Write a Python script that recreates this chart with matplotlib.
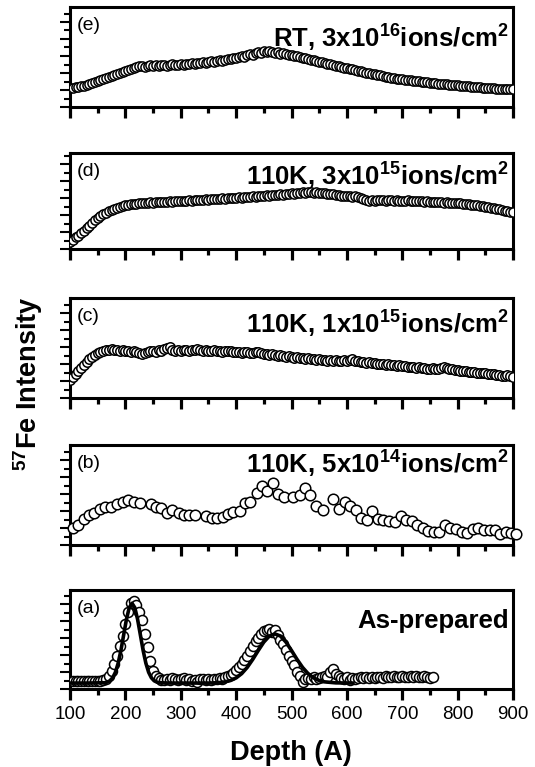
import numpy as np
import matplotlib
matplotlib.use("Agg")
import matplotlib.pyplot as plt
from matplotlib.ticker import MultipleLocator, NullFormatter, FixedLocator

plt.rcParams['font.family'] = ['Liberation Sans', 'DejaVu Sans']
plt.rcParams['mathtext.fontset'] = 'custom'
plt.rcParams['mathtext.rm'] = 'Liberation Sans:bold'
plt.rcParams['mathtext.bf'] = 'Liberation Sans:bold'

# ---------------- data ----------------
depth_dense = np.arange(100, 905, 5)

int_e = [0.19,0.19,0.20,0.20,0.21,0.21,0.22,0.23,0.24,0.25,0.26,0.27,0.28,0.29,0.30,0.31,0.32,0.33,0.34,0.35,
         0.36,0.37,0.38,0.39,0.40,0.41,0.41,0.40,0.41,0.42,0.41,0.42,0.41,0.42,0.42,0.41,0.42,0.43,0.42,0.42,
         0.43,0.42,0.43,0.43,0.44,0.43,0.44,0.44,0.45,0.44,0.45,0.46,0.45,0.46,0.47,0.46,0.47,0.48,0.48,0.49,
         0.49,0.50,0.51,0.50,0.52,0.53,0.52,0.54,0.55,0.54,0.56,0.55,0.56,0.55,0.54,0.55,0.53,0.54,0.53,0.52,
         0.52,0.51,0.51,0.50,0.49,0.49,0.48,0.47,0.47,0.46,0.45,0.45,0.44,0.43,0.43,0.42,0.41,0.41,0.40,0.39,
         0.39,0.38,0.38,0.37,0.36,0.36,0.35,0.34,0.34,0.33,0.33,0.32,0.32,0.31,0.30,0.30,0.29,0.29,0.28,0.28,
         0.28,0.27,0.27,0.27,0.26,0.26,0.26,0.25,0.25,0.25,0.24,0.24,0.24,0.23,0.23,0.23,0.23,0.22,0.22,0.22,
         0.22,0.21,0.21,0.21,0.21,0.20,0.20,0.20,0.20,0.19,0.19,0.19,0.19,0.19,0.18,0.18,0.18,0.18,0.18,0.18,
         0.18]

int_d = [0.07,0.09,0.12,0.14,0.17,0.19,0.22,0.24,0.27,0.30,0.32,0.34,0.36,0.38,0.40,0.41,0.42,0.43,0.44,0.45,
         0.46,0.46,0.47,0.47,0.47,0.48,0.48,0.48,0.48,0.49,0.48,0.49,0.49,0.49,0.49,0.49,0.50,0.49,0.50,0.50,
         0.50,0.50,0.50,0.51,0.50,0.51,0.51,0.51,0.51,0.52,0.51,0.52,0.52,0.52,0.52,0.53,0.52,0.53,0.53,0.53,
         0.53,0.54,0.53,0.54,0.54,0.54,0.55,0.54,0.55,0.55,0.55,0.56,0.55,0.56,0.56,0.56,0.57,0.56,0.57,0.57,
         0.58,0.57,0.58,0.58,0.59,0.58,0.59,0.59,0.58,0.59,0.58,0.58,0.58,0.57,0.57,0.57,0.56,0.56,0.55,0.55,
         0.55,0.55,0.54,0.55,0.54,0.53,0.52,0.51,0.50,0.51,0.50,0.51,0.51,0.51,0.50,0.51,0.51,0.50,0.51,0.50,
         0.50,0.50,0.51,0.50,0.50,0.50,0.50,0.50,0.49,0.50,0.49,0.49,0.49,0.49,0.49,0.48,0.49,0.48,0.48,0.48,
         0.48,0.48,0.47,0.47,0.47,0.46,0.46,0.46,0.45,0.45,0.44,0.44,0.43,0.43,0.42,0.42,0.41,0.40,0.40,0.39,
         0.39]

int_c = [0.18,0.21,0.24,0.27,0.30,0.33,0.36,0.39,0.41,0.43,0.45,0.46,0.47,0.48,0.48,0.49,0.48,0.48,0.47,0.48,
         0.47,0.47,0.46,0.47,0.46,0.45,0.44,0.45,0.46,0.47,0.47,0.46,0.48,0.47,0.49,0.50,0.51,0.48,0.47,0.48,
         0.47,0.48,0.48,0.47,0.48,0.48,0.49,0.48,0.47,0.48,0.47,0.47,0.48,0.47,0.47,0.46,0.47,0.47,0.47,0.46,
         0.46,0.46,0.45,0.46,0.46,0.45,0.45,0.46,0.46,0.45,0.44,0.44,0.43,0.44,0.43,0.42,0.43,0.42,0.41,0.42,
         0.41,0.40,0.41,0.40,0.40,0.39,0.40,0.39,0.39,0.38,0.39,0.38,0.38,0.37,0.38,0.37,0.38,0.37,0.37,0.38,
         0.37,0.38,0.39,0.37,0.37,0.36,0.36,0.35,0.36,0.35,0.35,0.34,0.34,0.34,0.33,0.34,0.33,0.33,0.32,0.33,
         0.32,0.32,0.31,0.31,0.31,0.30,0.31,0.30,0.30,0.29,0.29,0.30,0.29,0.29,0.30,0.31,0.30,0.29,0.29,0.28,
         0.28,0.27,0.27,0.27,0.26,0.26,0.26,0.25,0.25,0.25,0.25,0.24,0.24,0.24,0.23,0.23,0.22,0.22,0.23,0.22,
         0.21]

depth_b = [106,115,125,135,144,154,164,174,184,195,205,216,226,246,256,265,276,285,296,305,
           315,326,345,356,365,376,386,395,407,416,425,437,446,456,466,476,486,503,515,525,
           534,545,557,575,586,596,605,616,626,637,646,657,666,676,687,697,706,717,727,738,
           747,757,767,777,787,797,807,817,828,837,847,858,867,877,887,897,906]
int_b = [0.167,0.20,0.257,0.30,0.323,0.357,0.377,0.377,0.41,0.433,0.45,0.433,0.417,0.41,0.383,0.373,0.317,0.35,0.317,0.30,
         0.30,0.30,0.29,0.267,0.267,0.283,0.31,0.333,0.34,0.417,0.433,0.517,0.59,0.54,0.623,0.507,0.483,0.483,0.50,0.573,
         0.50,0.39,0.35,0.457,0.357,0.433,0.39,0.35,0.267,0.25,0.343,0.26,0.25,0.243,0.227,0.29,0.25,0.243,0.20,0.167,
         0.143,0.133,0.133,0.20,0.167,0.157,0.133,0.117,0.157,0.167,0.15,0.15,0.15,0.11,0.133,0.123,0.11]

depth_a = np.arange(100, 760, 5)
int_a = [0.08,0.085,0.08,0.08,0.085,0.08,0.08,0.085,0.08,0.08,0.085,0.08,0.09,
         0.10,0.13,0.18,0.25,0.33,0.43,0.54,0.66,0.78,0.87,0.89,0.85,0.78,0.70,0.56,0.42,0.28,0.18,0.13,0.11,0.09,
         0.09,0.10,0.09,0.11,0.10,0.09,0.10,0.11,0.09,0.10,0.08,0.09,0.07,0.10,0.10,0.09,0.10,0.09,0.10,0.10,
         0.11,0.10,0.12,0.13,0.14,0.16,0.19,0.22,0.25,0.29,0.33,0.38,0.43,0.48,0.52,0.56,0.59,0.60,0.61,0.58,
         0.60,0.55,0.50,0.45,0.39,0.33,0.28,0.24,0.17,0.13,0.07,0.10,0.11,0.10,0.12,0.10,0.11,0.12,0.13,0.12,
         0.17,0.20,0.15,0.13,0.11,0.10,0.12,0.09,0.11,0.10,0.11,0.12,0.11,0.12,0.11,0.12,0.11,0.12,0.12,0.11,
         0.13,0.12,0.12,0.13,0.12,0.12,0.13,0.12,0.12,0.13,0.12,0.13,0.12,0.12,0.13,0.12,0.11,0.12]

fit_depth = [100,130,160,162,167,172,177,182,187,192,197,202,207,212,217,222,227,232,237,242,247,252,257,262,
             280,300,330,350,360,370,380,390,400,410,420,430,440,450,460,470,480,490,500,510,520,530,540,
             550,560,580,611]
fit_int = [0.06,0.06,0.063,0.063,0.069,0.083,0.113,0.169,0.261,0.391,0.549,0.706,0.822,0.866,0.822,0.706,0.549,
           0.391,0.261,0.169,0.113,0.083,0.069,0.063,
           0.06,0.06,0.06,0.06,0.062,0.065,0.072,0.086,0.112,0.155,0.218,0.299,0.389,0.474,0.535,0.557,0.535,
           0.474,0.389,0.299,0.218,0.155,0.112,0.086,0.072,0.062,0.06]

labels_panel = ['(e)', '(d)', '(c)', '(b)', '(a)']
labels_cond = [r'RT, 3x10$^{16}$ions/cm$^{2}$', r'110K, 3x10$^{15}$ions/cm$^{2}$',
               r'110K, 1x10$^{15}$ions/cm$^{2}$', r'110K, 5x10$^{14}$ions/cm$^{2}$', 'As-prepared']
xticks = [100, 200, 300, 400, 500, 600, 700, 800, 900]

# ---------------- figure ----------------
W, H = 535, 767
fig = plt.figure(figsize=(W / 100, H / 100), dpi=100)

# (top_px, bottom_px)
boxes = [(7, 107), (153, 249), (298, 398), (445, 545), (590, 689)]
cond_baseline_px = [47, 185, 333, 473, 628]
left_px, right_px = 70, 513

series = [(depth_dense, int_e, 6.6), (depth_dense, int_d, 6.6), (depth_dense, int_c, 6.8),
          (depth_b, int_b, 7.6), (depth_a, int_a, 7.2)]

axes = []
for i, (top, bot) in enumerate(boxes):
    ax = fig.add_axes([left_px / W, 1 - bot / H, (right_px - left_px) / W, (bot - top) / H])
    axes.append(ax)
    x, y, ms = series[i]
    ax.plot(x, y, 'o', ms=ms, mfc='white', mec='black', mew=1.1, clip_on=(i != 3), zorder=3)
    if i == 4:
        ax.plot(fit_depth, fit_int, '-', color='black', lw=2.6, zorder=4)
    ax.set_xlim(100, 900)
    ax.set_ylim(0, 1)
    for s in ax.spines.values():
        s.set_linewidth(2.2)
    ax.xaxis.set_major_locator(FixedLocator(xticks))
    ax.xaxis.set_minor_locator(MultipleLocator(50))
    hpx = bot - top
    ax.yaxis.set_major_locator(MultipleLocator(17.0 / hpx))
    ax.yaxis.set_minor_locator(MultipleLocator(8.5 / hpx))
    ax.yaxis.set_major_formatter(NullFormatter())
    ax.tick_params(axis='x', which='major', direction='out', length=8, width=2.3, top=False)
    ax.tick_params(axis='x', which='minor', direction='out', length=4.5, width=2.3, top=False)
    ax.tick_params(axis='y', which='major', direction='out', length=7, width=1.5, right=False)
    ax.tick_params(axis='y', which='minor', direction='out', length=4.5, width=1.5, right=False)
    if i < 4:
        ax.xaxis.set_major_formatter(NullFormatter())
    else:
        ax.tick_params(axis='x', labelsize=13.5, pad=4)
    ax.text(0.016, 1 - 10.0 / hpx, labels_panel[i], transform=ax.transAxes, ha='left', va='top',
            fontsize=14)
    ax.text(0.99, (bot - cond_baseline_px[i]) / hpx, labels_cond[i], transform=ax.transAxes,
            ha='right', va='baseline', fontsize=18.5, fontweight='bold')

fig.text(291 / W, 1 - 760 / H, 'Depth (A)', ha='center', va='baseline',
         fontsize=19.5, fontweight='bold')
fig.text(28 / W, 1 - 384 / H, r'$^{57}$Fe Intensity', rotation=90, ha='center', va='center',
         fontsize=19.5, fontweight='bold')

fig.savefig('out.png', dpi=100)
